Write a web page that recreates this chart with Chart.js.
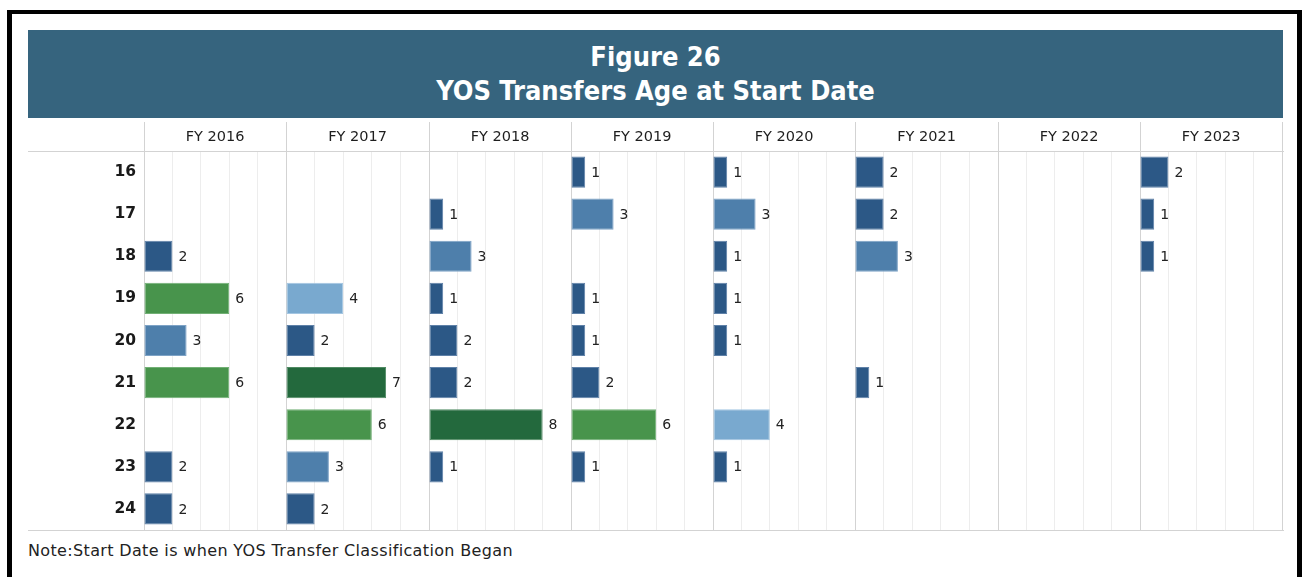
<!DOCTYPE html>
<html>
<head>
<meta charset="utf-8">
<script src="https://cdn.jsdelivr.net/npm/chart.js@4.4.0/dist/chart.umd.min.js"></script>
<style>
  body { margin: 0; background: #fff; width: 1305px; height: 577px; overflow: hidden; position: relative;
         font-family: "DejaVu Sans", sans-serif; }
  #frame { position: absolute; left: 7px; top: 10px; width: 1285px; height: 620px;
           border-left: 5px solid #000; border-top: 4px solid #000; border-right: 5px solid #000; }
  #banner { position: absolute; left: 28px; top: 30px; width: 1255px; height: 88px; background: #36647e;
            color: #fff; font-family: "DejaVu Sans Condensed", "DejaVu Sans", sans-serif;
            font-weight: bold; font-size: 27px; text-align: center; line-height: 34px;
            padding-top: 10px; box-sizing: border-box; }
  .panel { position: absolute; top: 118px; height: 414px; }
  #note { position: absolute; left: 28px; top: 541px; font-size: 16px; letter-spacing: 0.35px;
          color: #222; white-space: nowrap; }
</style>
</head>
<body>
<div id="frame"></div>
<div id="banner">Figure 26<br>YOS Transfers Age at Start Date</div>
<div id="panels"></div>
<div id="note">Note:Start Date is when YOS Transfer Classification Began</div>

<script>
// ====== DATA ======
const ages = ['16', '17', '18', '19', '20', '21', '22', '23', '24'];
const years = ['FY 2016', 'FY 2017', 'FY 2018', 'FY 2019', 'FY 2020', 'FY 2021', 'FY 2022', 'FY 2023'];

const fy2016 = [null, null, 2, 6, 3, 6, null, 2, 2];
const fy2017 = [null, null, null, 4, 2, 7, 6, 3, 2];
const fy2018 = [null, 1, 3, 1, 2, 2, 8, 1, null];
const fy2019 = [1, 3, null, 1, 1, 2, 6, 1, null];
const fy2020 = [1, 3, 1, 1, 1, null, 4, 1, null];
const fy2021 = [2, 2, 3, null, null, 1, null, null, null];
const fy2022 = [null, null, null, null, null, null, null, null, null];
const fy2023 = [2, 1, 1, null, null, null, null, null, null];

const seriesByYear = [fy2016, fy2017, fy2018, fy2019, fy2020, fy2021, fy2022, fy2023];

const xMax = 10;
const xStep = 2;

// ====== STYLE ======
const FONT = '"DejaVu Sans", sans-serif';
Chart.defaults.font.family = FONT;
Chart.defaults.color = '#222';

function barColor(v) {
    if (v >= 7) return '#23693d';
    if (v >= 5) return '#48944c';
    if (v >= 4) return '#79a9cf';
    if (v >= 3) return '#4e7fab';
    return '#2c5886';
}
function barEdge(v) {
    if (v >= 7) return '#4f8a62';
    if (v >= 5) return '#72b075';
    if (v >= 4) return '#a4c6e2';
    if (v >= 3) return '#7ea3c6';
    return '#5f81a8';
}

// value labels to the right of each bar
const valueLabels = {
    id: 'valueLabels',
    afterDatasetsDraw(chart) {
        const ctx = chart.ctx;
        const data = chart.data.datasets[0].data;
        ctx.save();
        ctx.font = '14px ' + FONT;
        ctx.fillStyle = '#222';
        ctx.textBaseline = 'middle';
        chart.getDatasetMeta(0).data.forEach((bar, i) => {
            if (data[i] == null) return;
            ctx.fillText(String(data[i]), bar.x + 6, bar.y + 1);
        });
        ctx.restore();
    }
};

// header and bottom rules across the whole canvas width
const ruleLines = {
    id: 'ruleLines',
    afterDraw(chart) {
        const ctx = chart.ctx;
        const a = chart.chartArea;
        ctx.save();
        ctx.strokeStyle = '#d3d3d3';
        ctx.lineWidth = 1;
        ctx.beginPath();
        ctx.moveTo(0, Math.round(a.top) + 0.5);
        ctx.lineTo(chart.width, Math.round(a.top) + 0.5);
        ctx.moveTo(0, Math.round(a.bottom) + 0.5);
        ctx.lineTo(chart.width, Math.round(a.bottom) + 0.5);
        ctx.stroke();
        ctx.restore();
    }
};

// ====== BUILD PANELS ======
const firstLeft = 144;
const panelW = 142.25;
const labelColLeft = 28;
const holder = document.getElementById('panels');

years.forEach((year, i) => {
    const isFirst = i === 0;
    const isLast = i === years.length - 1;
    const x0 = Math.round(firstLeft + i * panelW);
    const x1 = Math.round(firstLeft + (i + 1) * panelW);
    const left = isFirst ? labelColLeft : x0;
    const width = (x1 - left) + (isLast ? 2 : 0);

    const box = document.createElement('div');
    box.className = 'panel';
    box.style.left = left + 'px';
    box.style.width = width + 'px';
    const canvas = document.createElement('canvas');
    box.appendChild(canvas);
    holder.appendChild(box);

    const values = seriesByYear[i];

    new Chart(canvas.getContext('2d'), {
        type: 'bar',
        data: {
            labels: ages,
            datasets: [{
                data: values,
                backgroundColor: values.map(v => barColor(v)),
                borderColor: values.map(v => barEdge(v)),
                borderWidth: 1,
                borderSkipped: false,
                barPercentage: 0.74,
                categoryPercentage: 1
            }]
        },
        options: {
            indexAxis: 'y',
            responsive: true,
            maintainAspectRatio: false,
            animation: false,
            devicePixelRatio: 1,
            layout: { padding: { top: 0, bottom: 2, left: 0, right: isLast ? 2 : 0 } },
            plugins: { legend: { display: false }, tooltip: { enabled: false } },
            scales: {
                x: {
                    position: 'top',
                    min: 0,
                    max: xMax,
                    ticks: { display: false, stepSize: xStep },
                    border: { display: false },
                    grid: {
                        drawTicks: true,
                        tickLength: 29,
                        color: ctx => {
                            const v = ctx.tick.value;
                            if (v === 0) return '#d3d3d3';
                            if (v === xMax) return isLast ? '#d3d3d3' : 'rgba(0,0,0,0)';
                            return '#ededed';
                        },
                        tickColor: ctx => {
                            const v = ctx.tick.value;
                            if (v === 0 || (isLast && v === xMax)) return '#d3d3d3';
                            return 'rgba(0,0,0,0)';
                        }
                    },
                    title: {
                        display: true,
                        text: year,
                        color: '#1e1e1e',
                        font: { size: 14.5 },
                        padding: { top: 11, bottom: 0 }
                    },
                    afterFit: s => { s.height = 33; s.paddingLeft = 0; s.paddingRight = 0; }
                },
                y: {
                    display: isFirst,
                    grid: { display: false, drawTicks: false },
                    border: { display: false },
                    ticks: {
                        color: '#1a1a1a',
                        font: { size: 15.5, weight: 'bold' },
                        padding: 8
                    },
                    afterFit: s => {
                        if (isFirst) s.width = firstLeft - labelColLeft;
                        s.paddingTop = 0;
                        s.paddingBottom = 0;
                    }
                }
            }
        },
        plugins: [valueLabels, ruleLines]
    });
});
</script>
</body>
</html>
